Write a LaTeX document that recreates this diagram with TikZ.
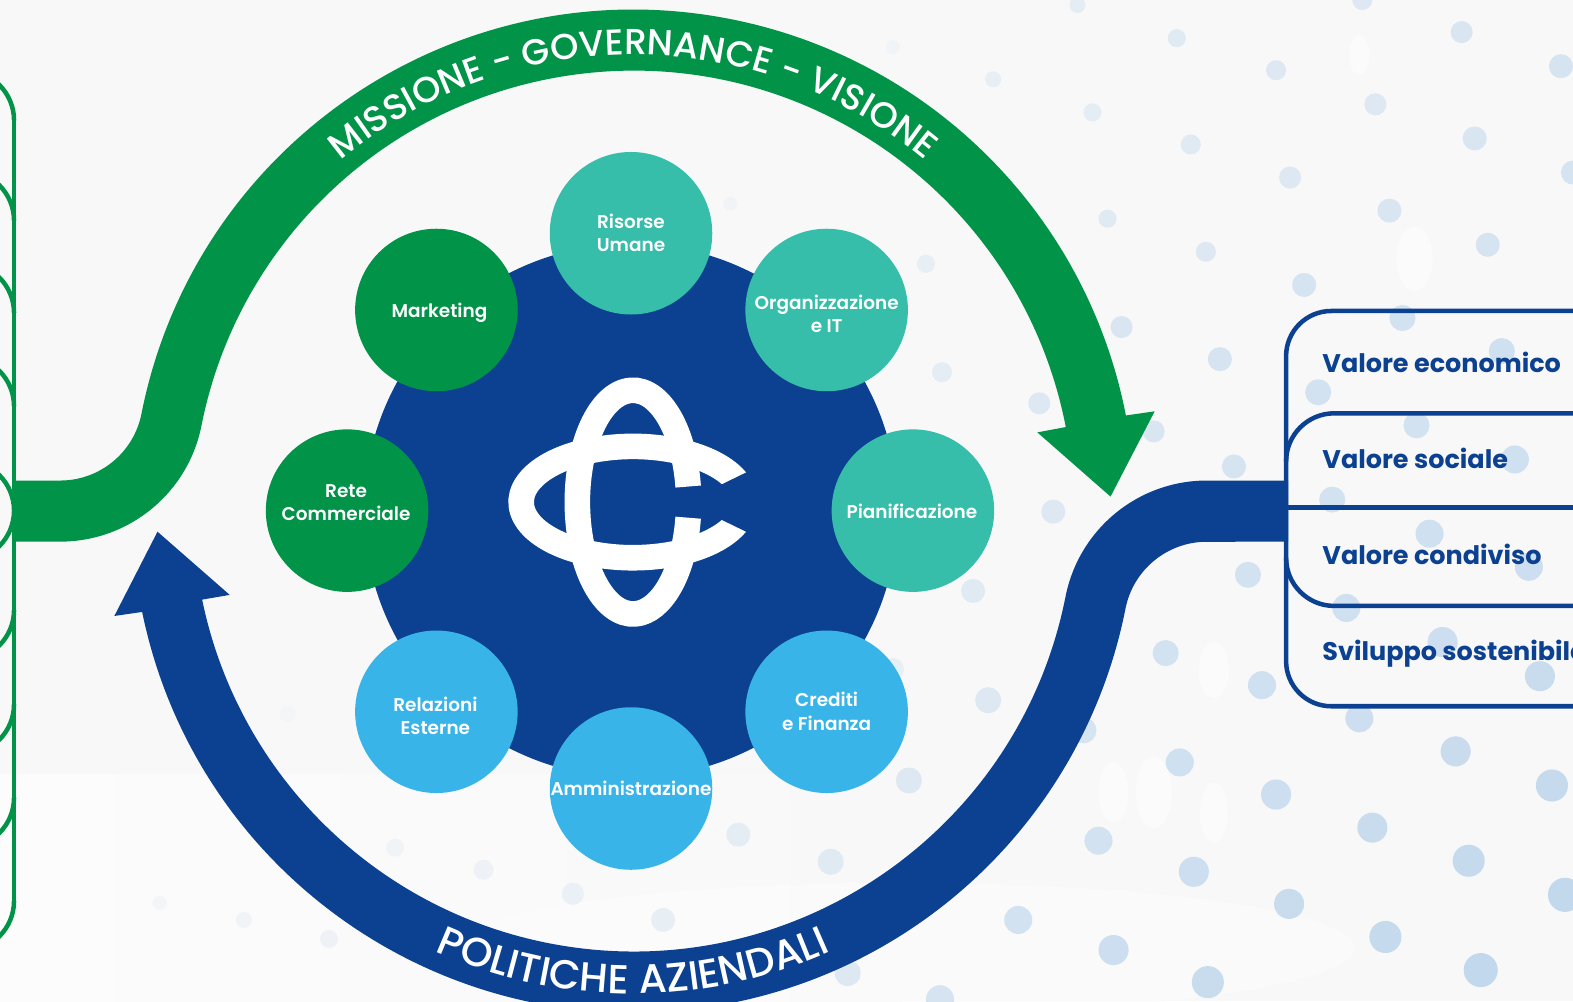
\documentclass[tikz,border=0pt]{standalone}
\usepackage{fontspec}
\usetikzlibrary{decorations.text}
\setmainfont{Poppins}
\newfontfamily\pmed{Poppins}[UprightFont=* Medium]
\newfontfamily\psemi{Poppins}[UprightFont=* SemiBold]
\newfontfamily\pbold{Poppins}[UprightFont=* Bold]
\definecolor{navy}{HTML}{0B4190}
\definecolor{grn}{HTML}{019348}
\definecolor{tealc}{HTML}{36BEAA}
\definecolor{skyc}{HTML}{39B4E9}
\definecolor{dotc}{HTML}{B4D0EA}
\definecolor{bgc}{HTML}{F8F8F8}
\definecolor{bglight}{HTML}{FCFCFC}
\tikzset{
  bub/.style={circle,minimum size=162pt,inner sep=0pt,draw=none},
  lbl/.style={text=white,align=center,inner sep=0pt,font=\psemi\fontsize{18.4}{23.2}\selectfont},
  val/.style={text=navy,anchor=base west,inner sep=0pt,font=\pbold\fontsize{25.4}{30}\selectfont},
  boxline/.style={draw=navy,line width=4.5pt},
  gline/.style={draw=grn,line width=4.5pt},
  ringtxt/.style={decorate,decoration={text along path,text align={align=center},text color=white}}
}
\begin{document}
\begin{tikzpicture}[x=1pt,y=1pt]
\useasboundingbox (0,0) rectangle (1568,-998);
\clip (0,0) rectangle (1568,-998);
% background
\fill[fill=bgc] (0,0) rectangle (1568,-998);
\shade[left color=bglight,right color=bgc] (0,-772) rectangle (900,-998);
\fill[fill=bglight,opacity=.7] (900,-945) ellipse[x radius=450,y radius=65];
\fill[fill=white,opacity=.45] (1410,-258) ellipse[x radius=18,y radius=32];
\fill[fill=white,opacity=.45] (1210,-668) ellipse[x radius=15,y radius=28];
\fill[fill=white,opacity=.45] (1150,-790) ellipse[x radius=18,y radius=36];
\fill[fill=white,opacity=.45] (1110,-790) ellipse[x radius=15,y radius=30];
\fill[fill=white,opacity=.45] (1210,-810) ellipse[x radius=14,y radius=30];
\fill[fill=white,opacity=.45] (1355,-55) ellipse[x radius=10,y radius=20];
% dots
\foreach \x/\y/\r/\p in {1074/5/8/30,1173/38/9/35,1272/70/10/40,1371/104/11/40,1470/138/12/45,1457/32/11/45,1556/66/12/50,1568/172/12/50,1358/0/10/40,
990/79/8/25,1089/112/9/30,1187/144/10/35,1286/177/11/40,1385/210/12/45,1483/244/12/50,
1104/218/9/35,1202/251/10/40,1300/284/12/50,1398/317/13/55,1497/350/13/60,
923/263/9/25,1118/326/11/45,1216/358/12/50,1314/391/13/55,1412/424/13/55,1510/458/14/60,
939/371/10/30,1036/402/11/40,1150/430/11/45,1230/465/12/50,1328/498/13/55,1425/532/14/60,1524/565/14/65,
1050/510/12/40,1244/573/13/55,1342/606/14/60,1438/640/15/65,1535/674/15/70,
970/589/12/35,1162/651/13/55,1258/683/14/60,1355/716/14/65,1451/749/15/70,1547/783/16/75,
985/698/13/40,1080/728/13/50,1176/760/14/60,1272/792/15/65,1368/825/15/70,1464/858/16/75,1560/892/17/80,
906/778/13/40,1095/838/14/55,1190/869/15/65,1285/901/15/70,1381/934/16/75,1476/967/17/80,
736/832/12/30,828/859/13/35,1015/917/14/55,1110/947/15/65,1204/979/16/70,
661/917/12/25,571/891/11/20,482/867/10/15,394/845/9/10,328/936/9/15,243/917/8/10,159/900/7/8,
845/970/13/40,937/996/14/50,890/47/7/10,728/203/7/10,890/667/11/25,287/712/8/8}
  \fill[fill=dotc!\p!bgc] (\x,-\y) circle[radius=\r];
% centre disc and logo
\node[circle,fill=navy,minimum size=532pt,inner sep=0pt] (disc) at (629,-509) {};
\begin{scope}[xshift=1pt]
\draw[white,line width=25.5pt] (737.7,-486.1) arc[start angle=15,end angle=345,x radius=111.5,y radius=55.5];
\draw[white,line width=25.5pt] (684.96,-485) arc[start angle=8,end angle=352,x radius=55.5,y radius=111.5];
\fill[fill=navy] (715,-484.5) -- (755,-465) -- (770,-500.5) -- (715,-500.5) -- cycle;
\fill[fill=navy] (715,-516.5) -- (755,-536) -- (770,-500.5) -- (715,-500.5) -- cycle;
\end{scope}
% bubbles
\node[bub,fill=tealc] (risorse) at (629,-232.5) {};
\node[bub,fill=tealc] (org) at (824,-309) {};
\node[bub,fill=tealc] (pian) at (910,-509) {};
\node[bub,fill=skyc] (cred) at (824,-709.5) {};
\node[bub,fill=skyc] (amm) at (629,-786) {};
\node[bub,fill=skyc] (rel) at (435,-709.5) {};
\node[bub,fill=grn] (rete) at (346,-509) {};
\node[bub,fill=grn] (mark) at (435,-309) {};
\node[lbl] (risorset) at (629,-232) {Risorse\\Umane};
\node[lbl] (orgt) at (824,-312.5) {Organizzazione\\e IT};
\node[lbl] (piant) at (909,-510) {Pianificazione};
\node[lbl] (credt) at (824,-709) {Crediti\\e Finanza};
\node[lbl] (ammt) at (629,-786) {Amministrazione};
\node[lbl] (relt) at (434,-713.5) {Relazioni\\Esterne};
\node[lbl] (retet) at (345,-501) {Rete\\Commerciale};
\node[lbl] (markt) at (438,-311.5) {Marketing};
% right boxes
\draw[boxline] (1580,-310) -- (1327,-310) arc[start angle=90,end angle=180,radius=45] -- (1282,-659) arc[start angle=180,end angle=270,radius=45] -- (1580,-704);
\draw[boxline] (1580,-412) -- (1330,-412) arc[start angle=90,end angle=180,radius=48];
\draw[boxline] (1580,-604) -- (1330,-604) arc[start angle=270,end angle=180,radius=48];
\draw[boxline] (1282,-506) -- (1580,-506);
\node[val] (v1) at (1318,-371) {Valore economico};
\node[val] (v2) at (1318,-467) {Valore sociale};
\node[val] (v3) at (1318,-563) {Valore condiviso};
\node[val] (v4) at (1318,-658) {Sviluppo sostenibile};
% left boxes
\draw[gline] (14,-120) -- (14,-898);
\foreach \y in {120,220,312,405,509}
  \draw[gline] (14,-\y) arc[start angle=0,end angle=90,radius=50];
\foreach \y in {509,608,702,795,898}
  \draw[gline] (14,-\y) arc[start angle=0,end angle=-90,radius=50];
% green arrow
\fill[fill=grn] (14,-479) -- (60,-479) arc[start angle=-90,end angle=-11.2,radius=82.6]
  arc[start angle=168.8,end angle=11,radius=500]
  -- (1151,-410) -- (1107,-495) -- (1034,-431) -- (1062.4,-425.7)
  arc[start angle=11,end angle=168.8,radius=439]
  arc[start angle=-11.2,end angle=-90,radius=143.6] -- (14,-540) -- cycle;
% blue arrow
\fill[fill=navy] (1284,-479) -- (1203,-479) arc[start angle=90,end angle=168.8,radius=143.6]
  arc[start angle=-11.2,end angle=-168.4,radius=439]
  -- (229,-593) -- (157,-530) -- (114,-614) -- (141.7,-610)
  arc[start angle=-168.4,end angle=-11.2,radius=500]
  arc[start angle=168.8,end angle=90,radius=82.6] -- (1284,-540) -- cycle;
% ring texts
\begin{scope}[shift={(631,-509.5)}]
\path[ringtxt,decoration={text={|\pmed\fontsize{36}{40}\selectfont|MISSIONE - GOVERNANCE - VISIONE}}] (140:455) arc[start angle=140,end angle=40,radius=455];
\path[ringtxt,decoration={text={|\pmed\fontsize{40.5}{42}\selectfont|POLITICHE AZIENDALI}}] (-120:481) arc[start angle=-120,end angle=-60,radius=481];
\end{scope}
\end{tikzpicture}
\end{document}
